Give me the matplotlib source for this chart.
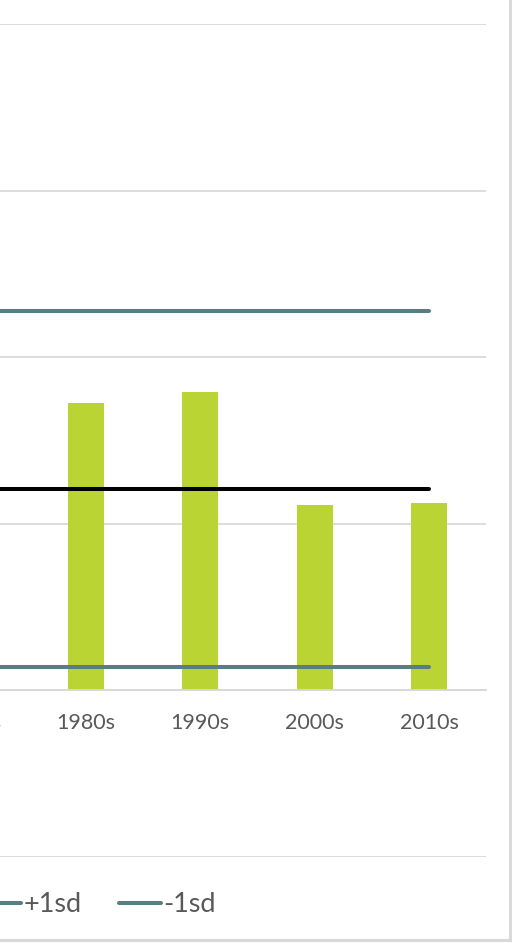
import matplotlib
matplotlib.use("Agg")
import matplotlib.pyplot as plt
import numpy as np
from matplotlib.lines import Line2D

# ---- data ----
categories = ["1970s", "1980s", "1990s", "2000s", "2010s"]
bar_values = [np.nan, 1.723, 1.789, 1.110, 1.122]
mean_values = [1.206, 1.206, 1.206, 1.206, 1.206]
plus_sd_values = [2.275, 2.275, 2.275, 2.275, 2.275]
minus_sd_values = [0.138, 0.138, 0.138, 0.138, 0.138]
y_ticks = [-1, 0, 1, 2, 3, 4]

# ---- style ----
W, H = 512, 943
BAR_COLOR = "#b9d433"
SD_COLOR = "#567f84"
MEAN_COLOR = "#000000"
GRID_COLOR = "#d9d9d9"
TEXT_COLOR = "#595959"
FONT = ["Lato", "DejaVu Sans"]

plt.rcParams["font.family"] = FONT

fig = plt.figure(figsize=(W / 100, H / 100), dpi=100)

# axes placement in pixels (plot area partially off-canvas on the left)
left_px, right_px = -85.5, 486.2
top_px, bottom_px = 24, 857
ax = fig.add_axes([left_px / W, 1 - bottom_px / H,
                   (right_px - left_px) / W, (bottom_px - top_px) / H])

x = np.arange(len(categories))
ax.bar(x, bar_values, width=0.315, color=BAR_COLOR, zorder=2)
lw = 2.9
ax.plot(x, plus_sd_values, color=SD_COLOR, lw=lw, solid_capstyle="round", zorder=3, label="+1sd")
ax.plot(x, mean_values, color=MEAN_COLOR, lw=lw, solid_capstyle="round", zorder=3, label="Mean")
ax.plot(x, minus_sd_values, color=SD_COLOR, lw=lw, solid_capstyle="round", zorder=3, label="-1sd")

ax.set_xlim(-0.5, len(categories) - 0.5)
ax.set_ylim(y_ticks[0], y_ticks[-1])
ax.set_yticks(y_ticks)
ax.yaxis.grid(True, color=GRID_COLOR, lw=1.3, zorder=0)
ax.set_axisbelow(True)
for s in ["left", "right", "top"]:
    ax.spines[s].set_visible(False)
ax.spines["bottom"].set_position(("data", 0))
ax.spines["bottom"].set_color(GRID_COLOR)
ax.spines["bottom"].set_linewidth(1.3)
ax.tick_params(axis="y", left=False, labelleft=False)
ax.set_xticks(x)
ax.set_xticklabels(categories)
ax.tick_params(axis="x", length=0, pad=16.5, labelsize=15.5, labelcolor=TEXT_COLOR)

# legend (partially off-canvas, like the source crop)
h_plus = Line2D([], [], color=SD_COLOR, lw=lw, solid_capstyle="round")
h_minus = Line2D([], [], color=SD_COLOR, lw=lw, solid_capstyle="round")
leg = fig.legend([h_plus, h_minus], ["+1sd", "-1sd"], ncol=2, frameon=False,
                 loc="center left", bbox_to_anchor=(-21 / W, 1 - 905 / H),
                 borderpad=0, borderaxespad=0, handlelength=1.55,
                 handletextpad=0.08, columnspacing=1.4, fontsize=19.5)
for t in leg.get_texts():
    t.set_color(TEXT_COLOR)

# chart border (right and bottom visible)
fig.add_artist(Line2D([509.5 / W, 509.5 / W], [1 - 940 / H, 1.0],
                      transform=fig.transFigure, color=GRID_COLOR, lw=2.2))
fig.add_artist(Line2D([0, 509.5 / W], [1 - 940 / H, 1 - 940 / H],
                      transform=fig.transFigure, color=GRID_COLOR, lw=2.2))

fig.savefig("out.png", dpi=100)
